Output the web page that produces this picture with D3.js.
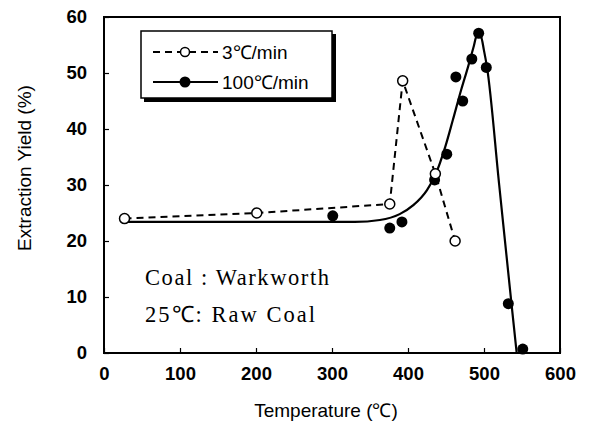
<!DOCTYPE html>
<html>
<head>
<meta charset="utf-8">
<script src="https://cdn.jsdelivr.net/npm/d3@7"></script>
<style>
body{margin:0;background:#fff;}
</style>
</head>
<body>
<svg width="589" height="435"></svg>
<script>
// 3C/min (open circles, dashed)
var slowT = [27, 201, 376, 393, 436, 462];
var slowY = [24, 25, 26.6, 48.6, 32, 20];
// 100C/min (filled circles)
var fastT = [301, 376, 392, 435, 451, 463, 472, 484, 493, 503, 532, 551];
var fastY = [24.5, 22.3, 23.4, 30.9, 35.5, 49.3, 45, 52.5, 57.1, 51, 8.8, 0.7];
// fitted curve for 100C/min
var fitT = [30, 330, 363, 389, 407, 425, 436, 449, 459, 470, 479, 486, 491, 496, 500, 504, 520, 536, 543];
var fitY = [23.4, 23.4, 23.75, 24.8, 26.4, 29.1, 31.8, 36.8, 41.6, 47, 51.1, 54.5, 56.8, 56.5, 54, 51, 30, 9, 0];
var xTicks = [0, 100, 200, 300, 400, 500, 600];
var yTicks = [0, 10, 20, 30, 40, 50, 60];

var sans = "Liberation Sans, Arial, sans-serif";
var serif = "Liberation Serif, Times New Roman, serif";
var svg = d3.select("svg");
var pLeft = 104, pRight = 560, pTop = 17, pBottom = 353;
var x = d3.scaleLinear().domain([0, 600]).range([pLeft, pRight]);
var y = d3.scaleLinear().domain([0, 60]).range([pBottom, pTop]);

// frame
svg.append("rect").attr("x", pLeft).attr("y", pTop)
	.attr("width", pRight - pLeft).attr("height", pBottom - pTop)
	.attr("fill", "none").attr("stroke", "#000").attr("stroke-width", 2);

// axes, ticks inside
var xAxis = svg.append("g").attr("transform", "translate(0," + pBottom + ")")
	.call(d3.axisBottom(x).tickValues(xTicks).tickSizeInner(-5).tickSizeOuter(0).tickPadding(14));
var yAxis = svg.append("g").attr("transform", "translate(" + pLeft + ",0)")
	.call(d3.axisLeft(y).tickValues(yTicks).tickSizeInner(-5).tickSizeOuter(0).tickPadding(17));
[xAxis, yAxis].forEach(function(a){
	a.select(".domain").remove();
	a.selectAll("line").attr("stroke-width", 1.2);
	a.selectAll("text").attr("font-size", 18.5).attr("font-weight", "bold")
		.attr("font-family", sans).attr("fill", "#000");
});

// axis titles
svg.append("text").attr("x", 326).attr("y", 417).attr("text-anchor", "middle")
	.attr("font-family", sans).attr("font-size", 19).text("Temperature (℃)");
svg.append("text").attr("transform", "translate(31,168) rotate(-90)")
	.attr("text-anchor", "middle").attr("font-family", sans).attr("font-size", 19).text("Extraction Yield (%)");

// fitted curve
var fit = fitT.map(function(t, i){ return [t, fitY[i]]; });
svg.append("path").datum(fit)
	.attr("d", d3.line().x(function(d){ return x(d[0]); }).y(function(d){ return y(d[1]); }).curve(d3.curveMonotoneX))
	.attr("fill", "none").attr("stroke", "#000").attr("stroke-width", 2.2);

// dashed line
var slow = slowT.map(function(t, i){ return [t, slowY[i]]; });
svg.append("path").datum(slow)
	.attr("d", d3.line().x(function(d){ return x(d[0]); }).y(function(d){ return y(d[1]); }))
	.attr("fill", "none").attr("stroke", "#000").attr("stroke-width", 2)
	.attr("stroke-dasharray", "7,5");

// markers
var fast = fastT.map(function(t, i){ return [t, fastY[i]]; });
svg.append("g").selectAll("circle").data(fast).enter().append("circle")
	.attr("cx", function(d){ return x(d[0]); }).attr("cy", function(d){ return y(d[1]); })
	.attr("r", 5.5).attr("fill", "#000");
svg.append("g").selectAll("circle").data(slow).enter().append("circle")
	.attr("cx", function(d){ return x(d[0]); }).attr("cy", function(d){ return y(d[1]); })
	.attr("r", 5).attr("fill", "#fff").attr("stroke", "#000").attr("stroke-width", 1.5);

// legend
var lg = svg.append("g");
lg.append("rect").attr("x", 144).attr("y", 34).attr("width", 192).attr("height", 68).attr("fill", "#000");
lg.append("rect").attr("x", 141).attr("y", 31).attr("width", 191).attr("height", 67)
	.attr("fill", "#fff").attr("stroke", "#000").attr("stroke-width", 1.5);
lg.append("line").attr("x1", 153).attr("x2", 218).attr("y1", 52).attr("y2", 52)
	.attr("stroke", "#000").attr("stroke-width", 2).attr("stroke-dasharray", "7,5");
lg.append("circle").attr("cx", 185).attr("cy", 52).attr("r", 4.5)
	.attr("fill", "#fff").attr("stroke", "#000").attr("stroke-width", 1.5);
lg.append("line").attr("x1", 153).attr("x2", 218).attr("y1", 82).attr("y2", 82)
	.attr("stroke", "#000").attr("stroke-width", 2);
lg.append("circle").attr("cx", 185).attr("cy", 82).attr("r", 5.5).attr("fill", "#000");
lg.append("text").attr("x", 222).attr("y", 59).attr("font-family", sans).attr("font-size", 19).text("3℃/min");
lg.append("text").attr("x", 222).attr("y", 89).attr("font-family", sans).attr("font-size", 19).text("100℃/min");

// annotation
svg.append("text").attr("x", 145).attr("y", 285).attr("font-family", serif)
	.attr("font-size", 22.5).attr("textLength", 184).attr("lengthAdjust", "spacing").text("Coal : Warkworth");
svg.append("text").attr("x", 145).attr("y", 322).attr("font-family", serif)
	.attr("font-size", 22.5).attr("textLength", 170).attr("lengthAdjust", "spacing").text("25℃: Raw Coal");
</script>
</body>
</html>
